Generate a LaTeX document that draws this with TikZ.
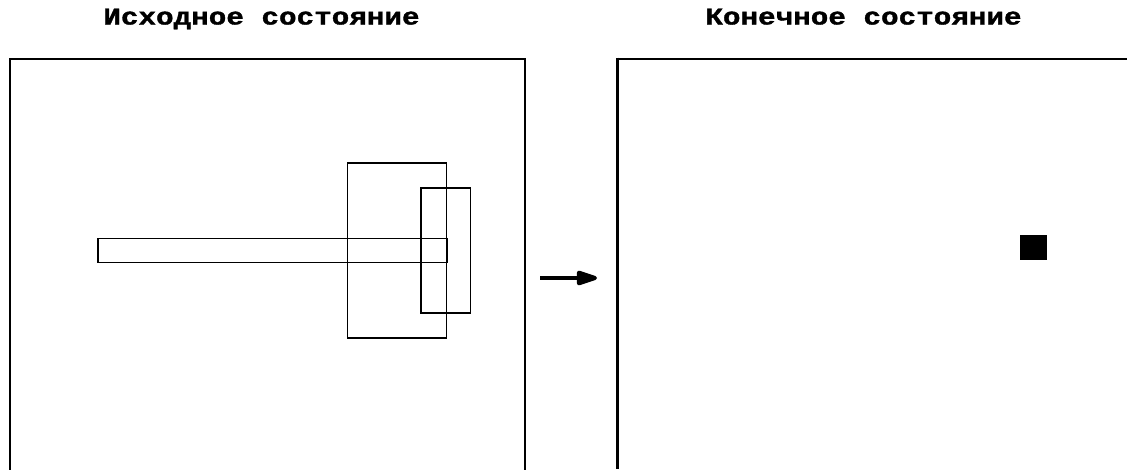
\documentclass[tikz,border=0pt]{standalone}
\usepackage{fontspec}
\newfontfamily\titlefont{Liberation Mono}[FakeStretch=1.22,BoldFeatures={FakeBold=1.5}]
\usetikzlibrary{arrows.meta}
\begin{document}
\begin{tikzpicture}[x=1pt,y=-1pt,
  frameline/.style={line width=2pt,line cap=rect},
  part/.style={draw,line width=1.3pt,rectangle,inner sep=0pt,outer sep=0pt},
  title/.style={font=\titlefont\bfseries\fontsize{24}{24}\selectfont,inner sep=0pt,anchor=base}]
\useasboundingbox (0,0) rectangle (1127,469);
% titles
\node[title] (t1) at (261.5,24.5) {Исходное состояние};
\node[title] (t2) at (863.5,24.5) {Конечное состояние};
% left frame (open at bottom)
\draw[frameline] (9.5,469) -- (9.5,58.5) -- (525,58.5) -- (525,469);
% right frame (open at right and bottom)
\draw[line width=2pt] (617.5,58.5) -- (1127,58.5);
\draw[line width=3pt] (617.5,57.5) -- (617.5,469);
% initial state parts
\node[part,minimum width=349pt,minimum height=23.5pt] (bar) at (272.5,250.5) {};
\node[part,minimum width=99.5pt,minimum height=175pt] (big) at (397,250.5) {};
\node[part,minimum width=49.5pt,minimum height=125pt] (narrow) at (445.8,250.5) {};
% final state part
\node[fill=black,draw=none,minimum width=26.5pt,minimum height=25pt,inner sep=0pt] (sq) at (1033.3,247.5) {};
% arrow
\coordinate (a1) at (540,278);
\coordinate (a2) at (597,278);
\draw[line width=4pt,-{Triangle[length=25pt,width=15pt,round]}] (a1) -- (a2);
\end{tikzpicture}
\end{document}
